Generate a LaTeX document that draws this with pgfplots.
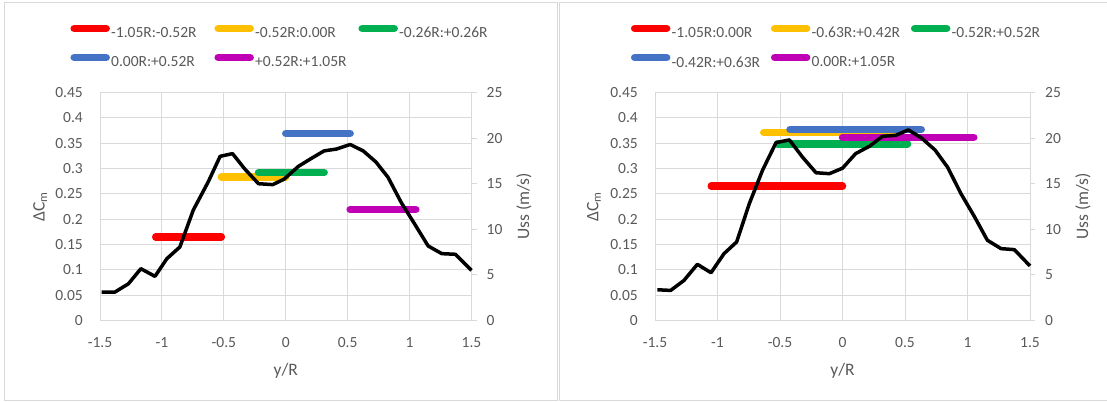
\documentclass[border=0pt]{standalone}
\usepackage{fontspec}
\setmainfont{Carlito}
\usepackage{pgfplots}
\pgfplotsset{compat=1.18}

\definecolor{txt}{HTML}{595959}
\definecolor{grd}{HTML}{D9D9D9}
\definecolor{cRed}{HTML}{FF0000}
\definecolor{cYel}{HTML}{FFC000}
\definecolor{cGrn}{HTML}{00B050}
\definecolor{cBlu}{HTML}{4472C4}
\definecolor{cMag}{HTML}{C000B4}

\newcommand\tickfont{\fontsize{15.5bp}{18bp}\selectfont}
\newcommand\titlefont{\fontsize{17.5bp}{20bp}\selectfont}
\newcommand\legfont{\fontsize{15.5bp}{18bp}\selectfont}
% legend text cell of fixed width, pulled close to its key
\newcommand\legtext[2]{\hspace*{-3bp}\makebox[#1][l]{#2}}

\pgfplotsset{
  panel/.style={
    scale only axis, height=228bp,
    xmin=-1.5, xmax=1.5,
    /pgf/number format/assume math mode=true,
    ticklabel style={font=\tickfont, text=txt, inner sep=0pt},
  },
  primary/.style={
    panel,
    ymin=0, ymax=0.45,
    xtick={-1.5,-1,-0.5,0,0.5,1,1.5},
    ytick={0,0.05,0.1,0.15,0.2,0.25,0.3,0.35,0.4,0.45},
    scaled ticks=false,
    xticklabel={\pgfmathprintnumber[fixed,precision=1]{\tick}},
    yticklabel={\pgfmathprintnumber[fixed,precision=2]{\tick}},
    grid=major, major grid style={draw=grd, line width=1bp},
    axis line style={draw=none}, major tick length=0pt,
    xticklabel style={anchor=base, yshift=-27bp},
    yticklabel style={anchor=east, xshift=-17bp},
    xlabel={y/R},
    every axis x label/.style={at={(axis description cs:0.5,-0.22)}, anchor=center, font=\titlefont, text=txt},
    ylabel={ΔC\textsubscript{m}},
    legend columns=3,
    legend style={draw=none, fill=none, inner sep=0pt, font=\legfont, text=txt,
      anchor=north west, row sep=14bp, column sep=0pt, nodes={inner sep=0.5bp}},
    legend image code/.code={
      \draw[#1, line width=7.5bp, line cap=round] (3.75bp,4.9bp) -- (35.75bp,4.9bp);
      \path (0bp,4.9bp) (39.5bp,4.9bp);},
  },
  secondary/.style={
    panel,
    ymin=0, ymax=25, ytick={0,5,10,15,20,25},
    axis x line=none, axis y line*=right, yticklabel pos=right,
    axis line style={draw=grd, line width=1bp},
    tick align=outside, major tick length=5bp,
    tick style={draw=grd, line width=1bp},
    yticklabel style={anchor=west, xshift=10bp},
    ylabel={Uss (m/s)},
    every axis y label/.style={at={(axis description cs:1.1413,0.5)}, rotate=90, anchor=center, font=\titlefont, text=txt},
    clip=false,
  },
  bar/.style={line width=7.5bp, line cap=round},
  curve/.style={black, line width=3.5bp, line join=round, no markers},
}

\begin{document}
\begin{tikzpicture}
\useasboundingbox (0bp,0bp) rectangle (1107bp,402bp);

% ---------- left panel ----------
\begin{axis}[primary, at={(100bp,81.5bp)}, anchor=south west, width=371.5bp,
  every axis y label/.style={at={(axis description cs:-0.161,0.5)}, rotate=90, anchor=center, font=\titlefont, text=txt},
  legend style={at={(axis description cs:-0.0902,1.298)}}]
\addplot[bar, cRed] coordinates {(-1.05,0.165) (-0.52,0.165)};
\addlegendentry{\legtext{99bp}{-1.05R:-0.52R}}
\addplot[bar, cYel] coordinates {(-0.52,0.283) (0.00,0.283)};
\addlegendentry{\legtext{99bp}{-0.52R:0.00R}}
\addplot[bar, cGrn] coordinates {(-0.22,0.292) (0.31,0.292)};
\addlegendentry{\legtext{99bp}{-0.26R:+0.26R}}
\addplot[bar, cBlu] coordinates {(0.00,0.369) (0.52,0.369)};
\addlegendentry{\legtext{99bp}{0.00R:+0.52R}}
\addplot[bar, cMag] coordinates {(0.52,0.219) (1.05,0.219)};
\addlegendentry{\legtext{99bp}{+0.52R:+1.05R}}
\end{axis}
\begin{axis}[secondary, at={(100bp,81.5bp)}, anchor=south west, width=371.5bp]
\addplot[curve] coordinates {
(-1.487,3.12) (-1.379,3.12) (-1.27,4.03) (-1.17,5.68) (-1.056,4.84)
(-0.96,6.78) (-0.855,8.06) (-0.747,12.1) (-0.626,15.2) (-0.53,18.0)
(-0.43,18.3) (-0.33,16.6) (-0.22,15.0) (-0.105,14.9) (-0.013,15.5)
(0.102,16.9) (0.21,17.8) (0.31,18.6) (0.41,18.8) (0.52,19.3)
(0.625,18.6) (0.727,17.4) (0.826,15.7) (0.934,12.9) (1.04,10.6)
(1.15,8.17) (1.26,7.33) (1.37,7.26) (1.5,5.5)};
\end{axis}

% ---------- right panel ----------
\begin{axis}[primary, at={(655bp,81.5bp)}, anchor=south west, width=375bp,
  every axis y label/.style={at={(axis description cs:-0.163,0.5)}, rotate=90, anchor=center, font=\titlefont, text=txt},
  legend style={at={(axis description cs:-0.0747,1.298)}}]
\addplot[bar, cRed] coordinates {(-1.05,0.265) (0.00,0.265)};
\addlegendentry{\legtext{95bp}{-1.05R:0.00R}}
\addplot[bar, cYel] coordinates {(-0.63,0.371) (0.42,0.371)};
\addlegendentry{\legtext{95bp}{-0.63R:+0.42R}}
\addplot[bar, cGrn] coordinates {(-0.52,0.348) (0.52,0.348)};
\addlegendentry{\legtext{95bp}{-0.52R:+0.52R}}
\addplot[bar, cBlu] coordinates {(-0.42,0.377) (0.63,0.377)};
\addlegendentry{\legtext{95bp}{-0.42R:+0.63R}}
\addplot[bar, cMag] coordinates {(0.00,0.3615) (1.05,0.3615)};
\addlegendentry{\legtext{95bp}{0.00R:+1.05R}}
\end{axis}
\begin{axis}[secondary, at={(655bp,81.5bp)}, anchor=south west, width=375bp]
\addplot[curve] coordinates {
(-1.481,3.37) (-1.375,3.30) (-1.268,4.40) (-1.161,6.16) (-1.052,5.24)
(-0.948,7.33) (-0.847,8.61) (-0.745,12.83) (-0.639,16.5) (-0.532,19.5)
(-0.425,19.8) (-0.319,17.9) (-0.212,16.2) (-0.105,16.1) (0,16.7)
(0.105,18.3) (0.215,19.1) (0.32,20.2) (0.425,20.3) (0.527,20.9)
(0.633,20.0) (0.74,18.7) (0.841,16.8) (0.948,13.9) (1.055,11.4)
(1.159,8.8) (1.268,7.88) (1.375,7.77) (1.5,5.98)};
\end{axis}

% chart-area frames
\draw[grd, line width=1bp] (4.5bp,1.5bp) rectangle (557.5bp,399bp);
\draw[grd, line width=1bp] (559.5bp,1.5bp) rectangle (1112bp,399bp);
\end{tikzpicture}
\end{document}
